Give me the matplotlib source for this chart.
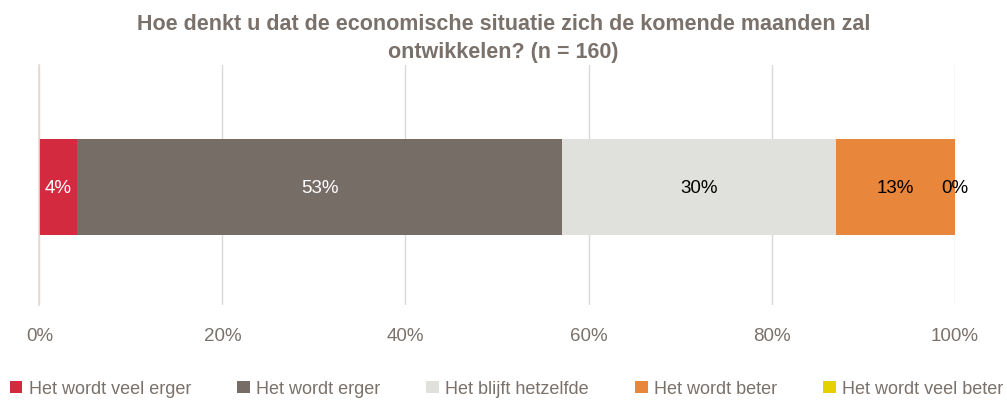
import matplotlib as mpl
import matplotlib.pyplot as plt

mpl.use('Agg')
plt.rcParams['font.family'] = ['Liberation Sans', 'DejaVu Sans']

categories = ['Het wordt veel erger', 'Het wordt erger', 'Het blijft hetzelfde',
              'Het wordt beter', 'Het wordt veel beter']
values = [4.1, 53.0, 29.9, 13.0, 0.0]
labels = ['4%', '53%', '30%', '13%', '0%']
colors = ['#D42A40', '#776D67', '#E0E0DC', '#E8863B', '#E4D200']
label_colors = ['white', 'white', 'black', 'black', 'black']
xticks = [0, 20, 40, 60, 80, 100]

text_gray = '#7A716B'

fig = plt.figure(figsize=(10.07, 4.02), dpi=100)
ax = fig.add_axes([0.0392, 0.2388, 0.9087, 0.597])

left = 0
for cat, v, lab, c, lc in zip(categories, values, labels, colors, label_colors):
    bars = ax.barh(0, v, left=left, height=0.4, color=c, label=cat, zorder=2)
    ax.bar_label(bars, labels=[lab], label_type='center', color=lc, fontsize=13.5)
    left += v

ax.set_xlim(0, 100)
ax.set_ylim(-0.49, 0.51)
ax.set_yticks([])
ax.set_xticks(xticks)
ax.set_xticklabels(['{}%'.format(t) for t in xticks])
ax.tick_params(axis='x', length=0, pad=15.5, labelsize=13.5, labelcolor=text_gray)
ax.grid(axis='x', color='#D9D9D9', linewidth=1, zorder=0)
for s in ['top', 'right', 'bottom']:
    ax.spines[s].set_visible(False)
ax.spines['left'].set_color('#E6DAD3')
ax.spines['left'].set_linewidth(1.2)

fig.text(0.5, 0.904, 'Hoe denkt u dat de economische situatie zich de komende maanden zal\nontwikkelen? (n = 160)',
         ha='center', va='center', fontsize=15.5, fontweight='bold', color=text_gray,
         linespacing=1.4)

leg = fig.legend(loc='center left', bbox_to_anchor=(0.006, 0.03), ncol=5, frameon=False,
                 fontsize=13, handlelength=0.7, handleheight=0.7, handletextpad=0.35,
                 columnspacing=2.55, borderaxespad=0, borderpad=0.2)
for t in leg.get_texts():
    t.set_color(text_gray)

plt.savefig('out.png', dpi=100)
